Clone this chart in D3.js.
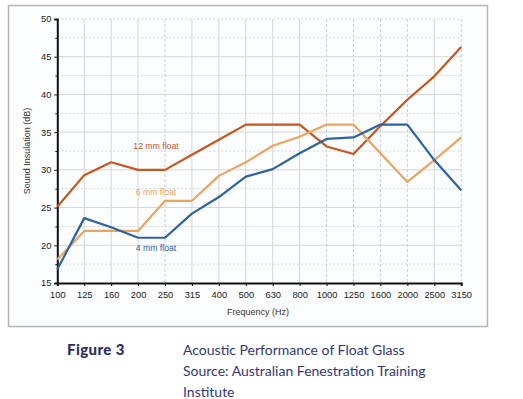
<!DOCTYPE html>
<html><head><meta charset="utf-8">
<script src="https://cdn.jsdelivr.net/npm/d3@7"></script>
<style>
html,body{margin:0;padding:0;background:#fff;}
svg{display:block;}
</style></head>
<body>
<svg id="c" width="523" height="399"></svg>
<script>
const categories = ["100","125","160","200","250","315","400","500","630","800","1000","1250","1600","2000","2500","3150"];
const float12 = [25.1,29.3,31.0,30.0,30.0,32.0,34.0,36.0,36.0,36.0,33.1,32.1,35.8,39.3,42.4,46.3];
const float6  = [18.1,21.9,21.9,21.9,25.9,25.9,29.2,31.0,33.2,34.4,36.0,36.0,32.2,28.4,31.3,34.3];
const float4  = [16.8,23.6,22.4,21.0,21.0,24.2,26.4,29.1,30.1,32.2,34.1,34.3,36.0,36.0,31.3,27.3];
const seriesNames = ["12 mm float","6 mm float","4 mm float"];
const yTicks = [15,20,25,30,35,40,45,50];
const captionLabel = "Figure 3";
const captionLines = ["Acoustic Performance of Float Glass","Source: Australian Fenestration Training","Institute"];

const svg = d3.select("#c");
const L = 57.3, R = 461.2, T = 19, B = 283;
const x = d3.scalePoint().domain(categories).range([L, R]);
const y = d3.scaleLinear().domain([15, 50]).range([B, T]);
const sans = "'Liberation Sans', Arial, sans-serif";

// outer frame
svg.append("rect").attr("x",8.5).attr("y",5.5).attr("width",479).attr("height",321)
  .attr("fill","#fcfdff").attr("stroke","#b4b4b4").attr("stroke-width",1.5);

// horizontal grid
const g = svg.append("g");
d3.range(17.5, 50, 5).forEach(v=>{
  g.append("line").attr("x1",L).attr("x2",R).attr("y1",y(v)).attr("y2",y(v))
   .attr("stroke","#cfd3dc").attr("stroke-width",1).attr("stroke-dasharray","2,2");
});
yTicks.slice(1).forEach(v=>{
  g.append("line").attr("x1",L).attr("x2",R).attr("y1",y(v)).attr("y2",y(v))
   .attr("stroke", v===50 ? "#cfd3dc" : "#d6d6d6").attr("stroke-width",1)
   .attr("stroke-dasharray", v===50 ? "2,2" : null);
});
// vertical grid
const dashedCats = new Set(["250","1000","1250","1600","2000","3150"]);
categories.slice(1).forEach(c=>{
  g.append("line").attr("x1",x(c)).attr("x2",x(c)).attr("y1",T).attr("y2",B)
   .attr("stroke", dashedCats.has(c) ? "#c8d0de" : "#d6d6d6").attr("stroke-width",1)
   .attr("stroke-dasharray", dashedCats.has(c) ? "3,2" : null);
});

// axes
const yAxis = d3.axisLeft(y).tickValues(yTicks).tickSize(3).tickPadding(3);
const ya = svg.append("g").attr("transform",`translate(${L},0)`).call(yAxis);
const yMinor = d3.axisLeft(y).tickValues(d3.range(17.5,50,5)).tickSize(2).tickFormat("");
svg.append("g").attr("transform",`translate(${L},0)`).call(yMinor).select(".domain").remove();
const xAxis = d3.axisBottom(x).tickSize(3).tickPadding(5);
const xa = svg.append("g").attr("transform",`translate(0,${B})`).call(xAxis);
[ya, xa].forEach(a=>{
  a.select(".domain").attr("stroke","#111").attr("stroke-width",2);
  a.selectAll("text").attr("font-family",sans).attr("font-size",9.3).attr("fill","#222");
});
svg.selectAll("g .tick line").attr("stroke","#111");

// lines
const colors = ["#c9561f","#eca45f","#2b64a2"];
const data = [float12, float6, float4];
const line = d3.line().x((d,i)=>x(categories[i])).y(d=>y(d));
data.forEach((s,k)=>{
  svg.append("path").attr("d",line(s)).attr("fill","none")
   .attr("stroke",colors[k]).attr("stroke-width",2.2).attr("stroke-linejoin","round");
});

// series labels
const labelPos = [[156,32.7],[156,26.7],[156,19.3]];
seriesNames.forEach((n,k)=>{
  svg.append("text").attr("x",labelPos[k][0]).attr("y",y(labelPos[k][1]))
   .attr("text-anchor","middle").attr("font-family",sans)
   .attr("font-size",8.7).attr("fill",colors[k]).text(n);
});

// axis titles
svg.append("text").attr("transform","translate(30,151) rotate(-90)")
  .attr("text-anchor","middle").attr("font-family",sans)
  .attr("font-size",9).attr("fill","#333").text("Sound Insulation (dB)");
svg.append("text").attr("x",258).attr("y",315)
  .attr("text-anchor","middle").attr("font-family",sans)
  .attr("font-size",9).attr("fill","#333").text("Frequency (Hz)");

// caption
svg.append("text").attr("x",67).attr("y",355).attr("font-family","Lato, 'Open Sans', sans-serif")
  .attr("font-weight",900).attr("font-size",15).attr("letter-spacing",0.4).attr("fill","#2b2c66").text(captionLabel);
captionLines.forEach((t,i)=>{
  svg.append("text").attr("x",183).attr("y",355+i*21).attr("font-family","Lato, 'Open Sans', sans-serif")
   .attr("font-size",14).attr("fill","#34367a").text(t);
});
</script>
</body></html>
